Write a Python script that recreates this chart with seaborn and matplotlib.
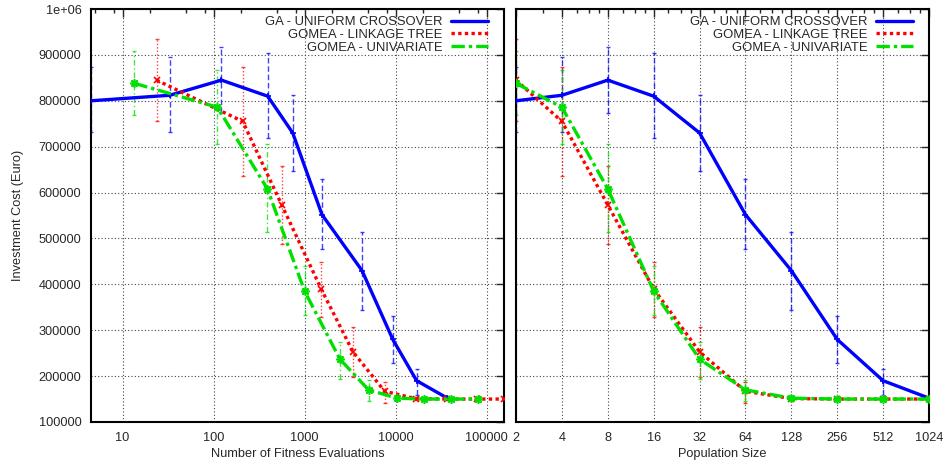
import numpy as np
import pandas as pd
import seaborn as sns
import matplotlib.pyplot as plt
from matplotlib.lines import Line2D
from matplotlib.ticker import FixedLocator, FuncFormatter, NullFormatter

# population sizes (right panel x)
pop_size = [2, 4, 8, 16, 32, 64, 128, 256, 512, 1024]

# GA - uniform crossover
ga_evals = [4.5, 33, 122, 393, 740, 1550, 4270, 9300, 17000, 37000]
ga_cost = [800000, 812000, 845000, 810000, 730000, 552000, 430000, 280000, 190000, 152000]
ga_low = [731000, 731000, 773000, 718000, 646000, 476000, 345000, 229000, 159000, 148000]
ga_high = [873000, 895000, 917000, 904000, 812000, 629000, 515000, 332000, 216000, 156000]

# GOMEA - linkage tree
lt_evals = [23.6, 209, 560, 1520, 3390, 7570, 16600, 37000, 79000, 155000]
lt_cost = [845000, 755000, 573000, 390000, 253000, 167000, 151000, 150000, 150000, 150000]
lt_low = [756000, 637000, 487000, 328000, 197000, 142000, 147000, 148000, 148000, 148000]
lt_high = [934000, 873000, 657000, 448000, 308000, 188000, 155000, 152000, 152000, 152000]

# GOMEA - univariate
uv_evals = [13.5, 110, 390, 1000, 2440, 5040, 10300, 20300, 40400, 80000]
uv_cost = [838000, 786000, 608000, 385000, 237000, 170000, 152000, 150000, 150000, 150000]
uv_low = [769000, 705000, 513000, 334000, 194000, 146000, 148000, 148000, 148000, 148000]
uv_high = [908000, 868000, 705000, 441000, 275000, 192000, 156000, 152000, 152000, 152000]

sns.set_style("white", {"axes.edgecolor": "black", "xtick.direction": "in", "ytick.direction": "in"})
plt.rcParams['font.family'] = ['Liberation Sans', 'DejaVu Sans']
plt.rcParams['font.size'] = 9.2

series = [
    ("GA - UNIFORM CROSSOVER", ga_evals, ga_cost, ga_low, ga_high,
     "#0000ff", "-", (0, (4, 2)), "+", 5),
    ("GOMEA - LINKAGE TREE", lt_evals, lt_cost, lt_low, lt_high,
     "#ff0000", (0, (1, 1)), (0, (1, 1.5)), "x", 4.5),
    ("GOMEA - UNIVARIATE", uv_evals, uv_cost, uv_low, uv_high,
     "#00e000", (0, (4, 1.2, 1, 1.2)), (0, (4, 2, 1, 2)), (8, 2, 0), 6),
]

fig = plt.figure(figsize=(9.49, 4.68), dpi=100)
ax1 = fig.add_axes([91 / 949, 1 - 422 / 468, 413 / 949, 413 / 468])
ax2 = fig.add_axes([516 / 949, 1 - 422 / 468, 413 / 949, 413 / 468])

for ax, use_pop in [(ax1, False), (ax2, True)]:
    for name, ev, cost, lo, hi, col, ls, els, mk, ms in series:
        xs = pop_size if use_pop else ev
        df = pd.DataFrame({"x": xs, "y": cost})
        err = [np.array(cost) - np.array(lo), np.array(hi) - np.array(cost)]
        eb = ax.errorbar(xs, cost, yerr=err, fmt="none", ecolor=col, elinewidth=1,
                         capsize=1.6, capthick=1, alpha=0.75, zorder=2)
        eb[2][0].set_linestyle(els)
        sns.lineplot(data=df, x="x", y="y", ax=ax, color=col, linewidth=2.4,
                     linestyle=ls, marker=mk, markersize=ms, markeredgewidth=1.2,
                     markeredgecolor=col, markerfacecolor=col, zorder=3)
    ax.set_xscale("log")
    ax.set_ylim(100000, 1000000)
    ax.yaxis.set_major_locator(FixedLocator(np.arange(100000, 1000001, 100000)))
    ax.grid(True, which="major", color="#444444", linestyle=(0, (1, 2)), linewidth=0.8)
    ax.tick_params(which="both", direction="in", top=True, right=True, width=1)
    ax.tick_params(which="major", length=6, pad=7)
    ax.tick_params(which="minor", length=3)
    for s in ax.spines.values():
        s.set_linewidth(1.5)
    ax.set_ylabel("")

# left panel: evaluations
ax1.set_xlim(min(ga_evals), max(lt_evals))
ax1.xaxis.set_major_locator(FixedLocator([10, 100, 1000, 10000, 100000]))
ax1.xaxis.set_minor_locator(FixedLocator([m * 10.0 ** k for k in range(0, 6) for m in (2, 5, 8)]))
ax1.xaxis.set_major_formatter(FuncFormatter(lambda v, p: "%d" % v))
ax1.xaxis.set_minor_formatter(NullFormatter())
ax1.yaxis.set_major_formatter(FuncFormatter(lambda v, p: "1e+06" if v >= 1e6 else "%d" % v))
ax1.set_xlabel("Number of Fitness Evaluations", labelpad=3)

# right panel: population size
ax2.set_xlim(pop_size[0], pop_size[-1])
ax2.xaxis.set_major_locator(FixedLocator(pop_size))
ax2.xaxis.set_minor_locator(FixedLocator([3] + [2 ** k * m for k in range(2, 10) for m in (1.25, 1.5, 1.75)]))
ax2.xaxis.set_major_formatter(FuncFormatter(lambda v, p: "%d" % v))
ax2.xaxis.set_minor_formatter(NullFormatter())
ax2.yaxis.set_major_formatter(NullFormatter())
ax2.set_xlabel("Population Size", labelpad=3)

fig.text(18 / 949, 1 - 215.5 / 468, "Investment Cost (Euro)", rotation=90,
         ha="center", va="center", fontsize=9.2)

for ax in (ax1, ax2):
    handles = [Line2D([], [], color=col, linewidth=2.4, linestyle=ls)
               for name, ev, cost, lo, hi, col, ls, els, mk, ms in series]
    labels = [s[0] for s in series]
    ax.legend(handles, labels, loc="upper right", frameon=False, markerfirst=False,
              handlelength=2.8, handletextpad=0.7, labelspacing=0.06,
              borderpad=0, borderaxespad=0, bbox_to_anchor=(1 - 16 / 413, 1 - 7 / 413),
              fontsize=9.4)

fig.savefig("out.png", dpi=100)
